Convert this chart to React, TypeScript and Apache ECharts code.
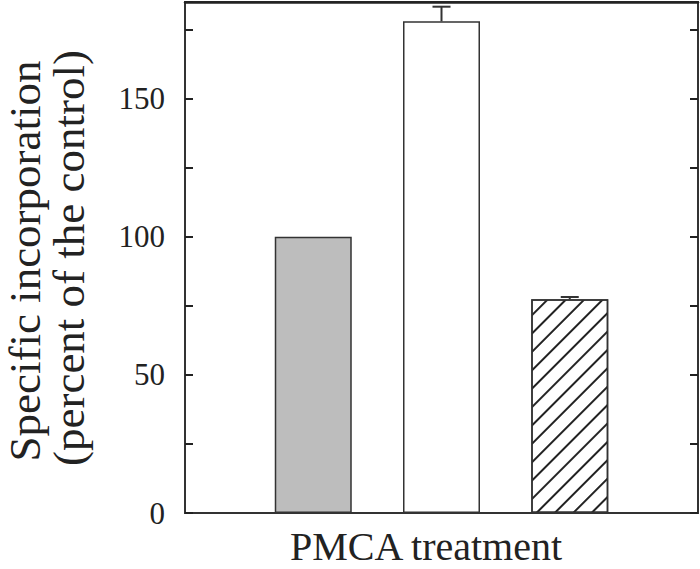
import React, { useEffect, useRef } from "react";
import * as echarts from "echarts";

const positions = [1, 2, 3];
const values = [100, 178, 77.4];
const errors = [0, 5.3, 0.8];
const fills = ["#bdbdbd", "#ffffff", "#ffffff"];
const yTicks = [0, 50, 100, 150];
const yAxisTitleLines = ["Specific incorporation", "(percent of the control)"];
const xAxisTitle = "PMCA treatment";

const FONT = "Liberation Serif";
const INK = "#222222";

export default function App() {
  const ref = useRef<HTMLDivElement>(null);
  useEffect(() => {
    if (!ref.current) return;
    const chart = echarts.init(ref.current, undefined, { renderer: "svg" });
    const barData = positions.map((p, i) => {
      const item: any = {
        value: [p, values[i]],
        itemStyle: { color: fills[i], borderColor: "#333", borderWidth: 1.5 },
      };
      if (i === 2) {
        item.itemStyle.decal = {
          symbol: "rect",
          symbolSize: 1,
          color: "#222",
          backgroundColor: "#ffffff",
          dashArrayX: [1, 0],
          dashArrayY: [1.3, 10.5],
          rotation: -Math.PI / 4,
        };
      }
      return item;
    });
    const errData = positions.map((p, i) => [p, values[i], values[i] + errors[i]]);
    const axisLineStyle = { color: "#333", width: 2 };
    chart.setOption({
      animation: false,
      grid: {
        left: 185,
        right: 2,
        top: 2,
        bottom: 56,
        containLabel: false,
        outerBoundsMode: "none",
        show: true,
        borderColor: "#333",
        borderWidth: 2,
        backgroundColor: "transparent",
      },
      graphic: [
        {
          type: "text",
          x: 25,
          y: 261,
          rotation: Math.PI / 2,
          style: {
            text: yAxisTitleLines[0],
            font: `45px "${FONT}"`,
            fill: INK,
            textAlign: "center",
            textVerticalAlign: "middle",
          },
        },
        {
          type: "text",
          x: 69,
          y: 258,
          rotation: Math.PI / 2,
          style: {
            text: yAxisTitleLines[1],
            font: `45px "${FONT}"`,
            fill: INK,
            textAlign: "center",
            textVerticalAlign: "middle",
          },
        },
        {
          type: "text",
          x: 426,
          y: 546,
          style: {
            text: xAxisTitle,
            font: `40px "${FONT}"`,
            fill: INK,
            textAlign: "center",
            textVerticalAlign: "middle",
          },
        },
      ],
      xAxis: [
        {
          type: "value",
          min: 0,
          max: 4,
          axisLine: { show: true, onZero: false, lineStyle: axisLineStyle },
          axisTick: { show: false },
          axisLabel: { show: false },
          splitLine: { show: false },
        },
        {
          type: "value",
          position: "top",
          min: 0,
          max: 4,
          axisLine: { show: true, onZero: false, lineStyle: { color: "#222", width: 2.5 } },
          axisTick: { show: false },
          axisLabel: { show: false },
          splitLine: { show: false },
        },
      ],
      yAxis: [
        {
          type: "value",
          min: 0,
          max: 185,
          interval: 25,
          axisLine: { show: true, onZero: false, lineStyle: axisLineStyle },
          axisTick: { show: true, inside: true, length: 8, lineStyle: { color: "#222", width: 2 } },
          axisLabel: {
            fontFamily: FONT,
            fontSize: 31,
            color: INK,
            margin: 20,
            formatter: (v: number) => (yTicks.includes(v) ? String(v) : ""),
          },
          splitLine: { show: false },
        },
        {
          type: "value",
          position: "right",
          min: 0,
          max: 185,
          interval: 25,
          axisLine: { show: true, onZero: false, lineStyle: axisLineStyle },
          axisTick: { show: true, inside: true, length: 8, lineStyle: { color: "#222", width: 2 } },
          axisLabel: { show: false },
          splitLine: { show: false },
        },
      ],
      series: [
        {
          type: "bar",
          xAxisIndex: 0,
          yAxisIndex: 0,
          barWidth: 77,
          data: barData,
        },
        {
          type: "custom",
          xAxisIndex: 0,
          yAxisIndex: 0,
          data: errData,
          z: 5,
          renderItem: (params: any, api: any) => {
            const x = api.value(0);
            const lo = api.coord([x, api.value(1)]);
            const hi = api.coord([x, api.value(2)]);
            if (Math.abs(lo[1] - hi[1]) < 0.5) return { type: "group", children: [] };
            const style = { stroke: "#333", lineWidth: 2 };
            return {
              type: "group",
              children: [
                { type: "line", shape: { x1: lo[0], y1: lo[1], x2: hi[0], y2: hi[1] }, style },
                { type: "line", shape: { x1: hi[0] - 9, y1: hi[1], x2: hi[0] + 9, y2: hi[1] }, style },
              ],
            };
          },
        },
      ],
    });
    return () => chart.dispose();
  }, []);
  return <div ref={ref} style={{ width: 700, height: 569, position: "absolute", left: 0, top: 0 }} />;
}
